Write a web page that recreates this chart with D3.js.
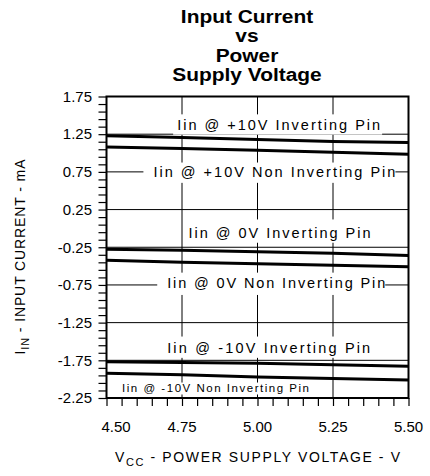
<!DOCTYPE html>
<html><head><meta charset="utf-8">
<script src="https://cdn.jsdelivr.net/npm/d3@7"></script>
<style>
html,body{margin:0;padding:0;background:#fff;}
svg text{font-family:"Liberation Sans",Arial,sans-serif;fill:#000;}
</style></head>
<body><div id="chart"></div>
<script>
// ---- data ----
const titleLines = ["Input Current","vs","Power","Supply Voltage"];
const xVals = [4.50, 4.75, 5.00, 5.25, 5.50];
const xTickLabels = ["4.50","4.75","5.00","5.25","5.50"];
const yTickValues = [1.75, 1.25, 0.75, 0.25, -0.25, -0.75, -1.25, -1.75, -2.25];
const yTickLabels = ["1.75","1.25","0.75","0.25","-0.25","-0.75","-1.25","-1.75","-2.25"];
const inv10  = [1.23, 1.206, 1.18, 1.153, 1.14];
const non10  = [1.08, 1.06, 1.037, 1.01, 0.984];
const inv0   = [-0.277, -0.29, -0.31, -0.33, -0.36];
const non0   = [-0.423, -0.45, -0.47, -0.49, -0.51];
const invm10 = [-1.77, -1.78, -1.79, -1.81, -1.83];
const nonm10 = [-1.92, -1.94, -1.97, -1.99, -2.01];
const seriesList = [inv10, non10, inv0, non0, invm10, nonm10];
const labelTexts = ["Iin @ +10V Inverting Pin","Iin @ +10V Non Inverting Pin","Iin @ 0V Inverting Pin",
                    "Iin @ 0V Non Inverting Pin","Iin @ -10V Inverting Pin","Iin @ -10V Non Inverting Pin"];
const labelX = [5.07, 5.056, 5.073, 5.062, 5.037, 4.861];
const labelY = [1.31, 0.684, -0.124, -0.79, -1.651, -2.177];

// ---- layout / style ----
const W = 430, H = 476;
const m = {left:106.5, right:430-408.5, top:96.5, bottom:476-398};
const labelStyle = [
  {fs:14.5, len:203, pad:[4,4,2,5]},   // [left, top, right, bottom]
  {fs:14.5, len:242, pad:[10,3,0,6]},
  {fs:14.5, len:182, pad:[4,7,4,5]},
  {fs:14.5, len:218, pad:[10,4,0,7]},
  {fs:14.5, len:203, pad:[4,5,4,5]},
  {fs:11.5, len:187, pad:[2,1,2,2]}
];

const svg = d3.select("#chart").append("svg").attr("width",W).attr("height",H);
const x = d3.scaleLinear().domain([4.5,5.5]).range([m.left, W-m.right]);
const y = d3.scaleLinear().domain([-2.25,1.75]).range([H-m.bottom, m.top]);

// title
const tg = svg.append("g").attr("transform","translate(247,0) scale(1.1,1)");
titleLines.forEach((t,i)=>{
  tg.append("text").attr("x",0).attr("y",23+i*19.4).attr("text-anchor","middle")
    .attr("font-size",19).attr("font-weight","bold").text(t);
});

// gridlines
const grid = svg.append("g").attr("stroke","#000").attr("stroke-width",1);
yTickValues.slice(1,-1).forEach(v=>{
  grid.append("line").attr("x1",x(4.5)).attr("x2",x(5.5)).attr("y1",y(v)).attr("y2",y(v));
});
xVals.slice(1,-1).forEach(v=>{
  grid.append("line").attr("y1",y(1.75)).attr("y2",y(-2.25)).attr("x1",x(v)).attr("x2",x(v));
});

// labels with white masks
const lg = svg.append("g");
labelTexts.forEach((t,i)=>{
  const st = labelStyle[i];
  const cx = x(labelX[i]), by = y(labelY[i]);
  const rect = lg.append("rect").attr("fill","#fff");
  lg.append("text").attr("x",cx).attr("y",by).attr("text-anchor","middle")
    .attr("font-size",st.fs).attr("textLength",st.len).attr("lengthAdjust","spacing").text(t);
  const asc = st.fs*0.78;
  rect.attr("x",cx-st.len/2-st.pad[0]).attr("y",by-asc-st.pad[1])
      .attr("width",st.len+st.pad[0]+st.pad[2]).attr("height",asc+st.pad[1]+st.pad[3]);
});

// data lines
const line = d3.line().x((d,i)=>x(xVals[i])).y(d=>y(d));
seriesList.forEach(s=>{
  svg.append("path").datum(s).attr("d",line).attr("fill","none").attr("stroke","#000").attr("stroke-width",3);
});

// axes ticks
const yMinor = d3.range(0,41).map(i=>+(-2.25+i*0.1).toFixed(2));
svg.append("g").attr("transform",`translate(${m.left},0)`)
  .call(d3.axisLeft(y).tickValues(yMinor).tickSize(8).tickFormat(""))
  .call(g=>{g.select(".domain").remove(); g.selectAll("line").attr("stroke","#000").attr("stroke-width",1.2);});
const xMinor = d3.range(0,21).map(i=>+(4.5+i*0.05).toFixed(2));
svg.append("g").attr("transform",`translate(0,${H-m.bottom})`)
  .call(d3.axisBottom(x).tickValues(xMinor).tickSize(8).tickFormat(""))
  .call(g=>{g.select(".domain").remove(); g.selectAll("line").attr("stroke","#000").attr("stroke-width",1.2);});

// frame
svg.append("rect").attr("x",x(4.5)).attr("y",y(1.75)).attr("width",x(5.5)-x(4.5)).attr("height",y(-2.25)-y(1.75))
  .attr("fill","none").attr("stroke","#000").attr("stroke-width",2);

// tick labels
yTickValues.forEach((v,i)=>{
  svg.append("text").attr("x",92).attr("y",y(v)+5.3).attr("text-anchor","end").attr("font-size",15).text(yTickLabels[i]);
});
xVals.forEach((v,i)=>{
  svg.append("text").attr("x",x(v)+(i===0?9.5:0)).attr("y",432).attr("text-anchor","middle").attr("font-size",15).text(xTickLabels[i]);
});

// axis titles
const xt = svg.append("text").attr("x",257.5).attr("y",462).attr("text-anchor","middle").attr("font-size",14)
  .attr("textLength",285).attr("lengthAdjust","spacing");
xt.append("tspan").text("V");
xt.append("tspan").attr("dy",4).attr("font-size",11).text("CC");
xt.append("tspan").attr("dy",-4).text(" - POWER SUPPLY VOLTAGE - V");

const yt = svg.append("text").attr("transform","translate(25,257) rotate(-90)").attr("text-anchor","middle").attr("font-size",14)
  .attr("textLength",195).attr("lengthAdjust","spacing");
yt.append("tspan").text("I");
yt.append("tspan").attr("dy",4).attr("font-size",11).text("IN");
yt.append("tspan").attr("dy",-4).text(" - INPUT CURRENT - mA");
</script></body></html>
